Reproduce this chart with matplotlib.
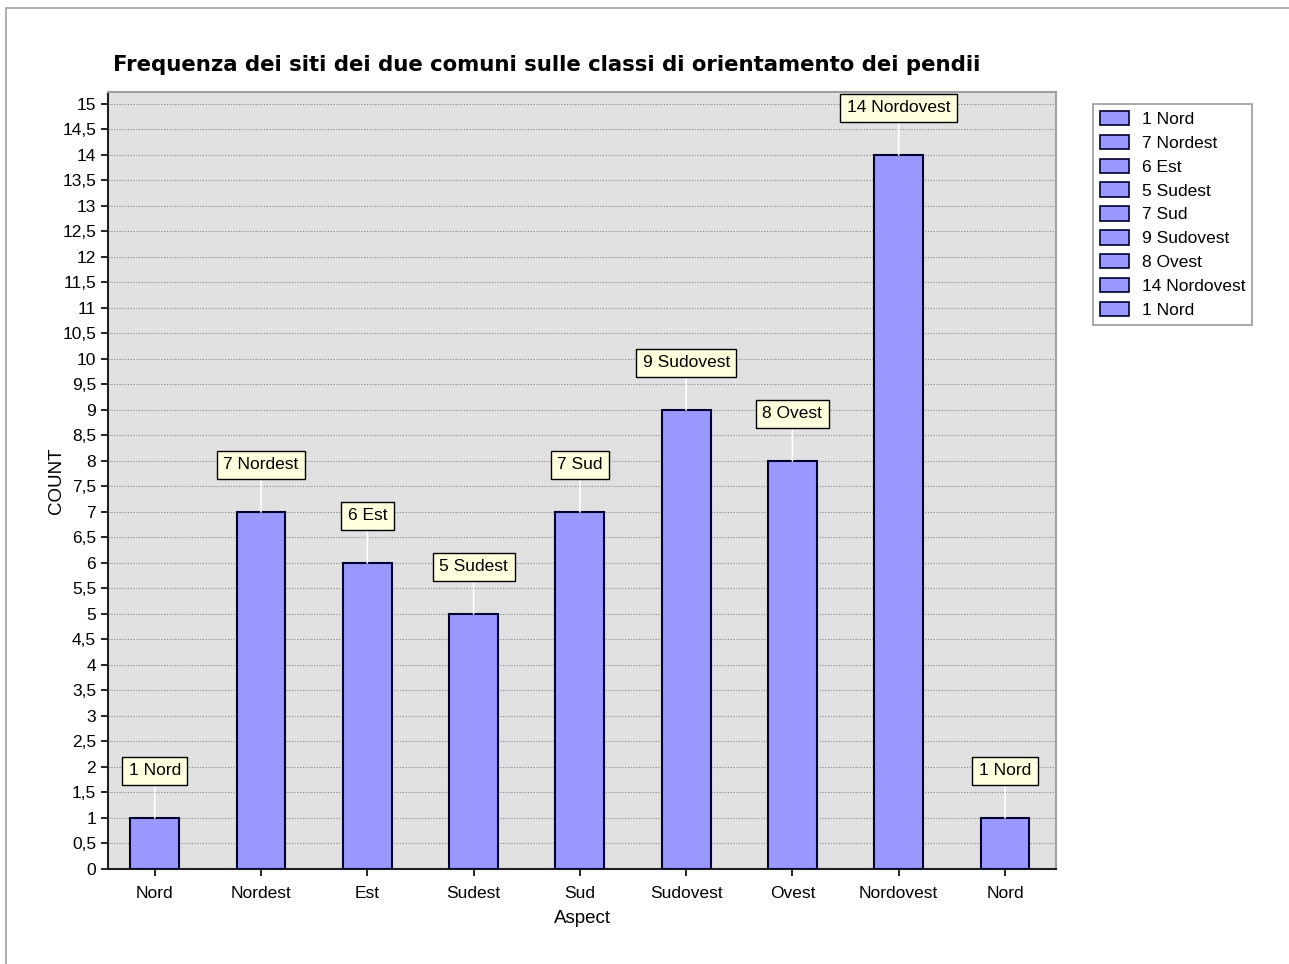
import numpy as np
import matplotlib
matplotlib.use("Agg")
import matplotlib.pyplot as plt
from matplotlib.patches import Patch, Rectangle
from matplotlib.ticker import FuncFormatter

categories = ['Nord', 'Nordest', 'Est', 'Sudest', 'Sud', 'Sudovest', 'Ovest', 'Nordovest', 'Nord']
counts = [1, 7, 6, 5, 7, 9, 8, 14, 1]
labels = [f'{c} {n}' for c, n in zip(counts, categories)]

bar_color = '#9999ff'
edge_color = '#000033'

plt.rcParams['font.family'] = ['Liberation Sans', 'DejaVu Sans']

fig = plt.figure(figsize=(12.89, 9.64), dpi=100)
ax = fig.add_axes([108 / 1289, 1 - 869 / 964, (1056 - 108) / 1289, (869 - 92) / 964])

# thin frame round the picture (only top and left visible)
fig.patches.append(Rectangle((6 / 1289, -0.1), 1.1, 1.1 - 8 / 964, transform=fig.transFigure,
                             fill=False, edgecolor='#a0a0a0', linewidth=1.2))

x = np.arange(len(categories))
ax.bar(x, counts, width=0.46, color=bar_color, edgecolor=edge_color, linewidth=1.5, zorder=3)

# value labels with connector line
for xi, v, lab in zip(x, counts, labels):
    ax.annotate(lab, xy=(xi, v), xytext=(0, 47), textcoords='offset pixels',
                ha='center', va='center', fontsize=12.5, zorder=5,
                bbox=dict(boxstyle='square,pad=0.38', fc='#ffffdd', ec='black', lw=1),
                arrowprops=dict(arrowstyle='-', color='white', lw=1.2, shrinkA=0, shrinkB=0))

ax.set_xlim(-0.44, 8.48)
ax.set_ylim(0, 15.235)
ax.set_yticks(np.arange(0, 15.01, 0.5))
ax.yaxis.set_major_formatter(FuncFormatter(lambda v, p: (f'{v:g}').replace('.', ',')))
ax.set_xticks(x)
ax.set_xticklabels(categories)
ax.tick_params(axis='both', labelsize=12.5, direction='out', length=5, width=1.2)
ax.tick_params(axis='x', pad=7)
ax.set_facecolor('#e1e1e1')
ax.grid(axis='y', linestyle=(0, (1, 1.5)), color='#8a8a8a', linewidth=0.8, zorder=1)
ax.set_axisbelow(True)
for side in ['left', 'bottom']:
    ax.spines[side].set_linewidth(1.5)
    ax.spines[side].set_color('#202020')
for side in ['top', 'right']:
    ax.spines[side].set_color('#a0a0a0')
    ax.spines[side].set_linewidth(1.5)

ax.set_xlabel('Aspect', fontsize=13.5, labelpad=7)
ax.set_ylabel('COUNT', fontsize=13.5, labelpad=-2)

fig.text(113 / 1289, 1 - 65 / 964, 'Frequenza dei siti dei due comuni sulle classi di orientamento dei pendii',
         fontsize=15.3, fontweight='bold', va='center', ha='left', family=['DejaVu Sans'])

handles = [Patch(facecolor=bar_color, edgecolor=edge_color, linewidth=1.2) for _ in labels]
leg = fig.legend(handles, labels, loc='upper left', bbox_to_anchor=(1093 / 1289, 1 - 104 / 964),
                 borderaxespad=0, fontsize=12.5, frameon=True, fancybox=False, handlelength=1.7,
                 handleheight=0.9, labelspacing=0.44, handletextpad=0.7, borderpad=0.4)
leg.get_frame().set_edgecolor('#808080')
leg.get_frame().set_linewidth(1.2)

fig.savefig('out.png', dpi=100)
